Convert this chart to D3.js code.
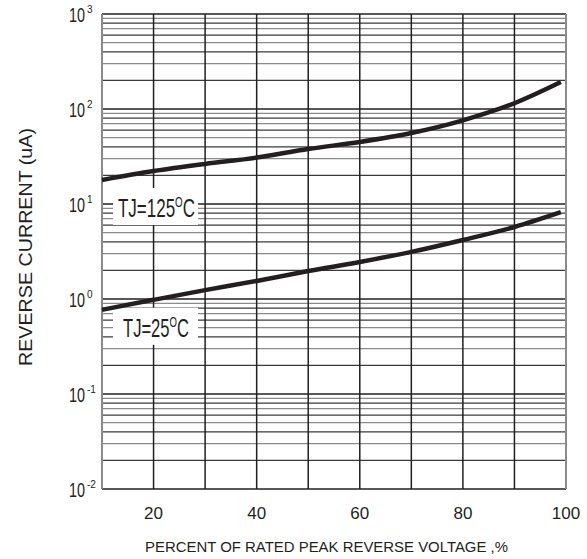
<!DOCTYPE html>
<html lang="en">
<head>
<meta charset="UTF-8">
<script src="https://d3js.org/d3.v7.min.js"></script>
<title>Reverse current</title>
<style>
  body { margin: 0; background: #fff; }
  text { font-family: "Liberation Sans", Arial, sans-serif; fill: #231f20; }
</style>
</head>
<body>
<svg id="chart" width="587" height="559"></svg>
<script>
// data
var voltage = [10, 20, 30, 40, 50, 60, 70, 80, 90, 99];
var current125 = [17.9, 22.2, 26.4, 30.8, 37.9, 45, 55.9, 76, 115, 192];
var current25 = [0.77, 0.98, 1.24, 1.55, 1.97, 2.45, 3.13, 4.18, 5.73, 8.2];
var xTicks = [20, 40, 60, 80, 100];
var xGrid = [20, 30, 40, 50, 60, 70, 80, 90];
var decades = [-2, -1, 0, 1, 2, 3];
var curveLabels = [
  { name: "125", x: 10, y: 7.3 },
  { name: "25", x: 10, y: 0.4 }
];

var svg = d3.select("#chart");
var pLeft = 102, pRight = 566, pTop = 14, pBottom = 489;

var x = d3.scaleLinear().domain([10, 100]).range([pLeft, pRight]);
var y = d3.scaleLog().domain([0.01, 1000]).range([pBottom, pTop]);

// minor grid lines
var minors = [];
decades.slice(0, -1).forEach(function(d) {
  for (var m = 2; m <= 9; m++) minors.push({ v: m * Math.pow(10, d), m: m });
});
svg.append("g").selectAll("line").data(minors).join("line")
  .attr("x1", pLeft).attr("x2", pRight)
  .attr("y1", function(d) { return y(d.v); })
  .attr("y2", function(d) { return y(d.v); })
  .attr("stroke", function(d) { return d.m % 2 ? "#8a8a8a" : "#3a3a3a"; })
  .attr("stroke-width", 1.3);

// major grid lines
svg.append("g").selectAll("line").data(decades).join("line")
  .attr("x1", pLeft).attr("x2", pRight)
  .attr("y1", function(d) { return y(Math.pow(10, d)); })
  .attr("y2", function(d) { return y(Math.pow(10, d)); })
  .attr("stroke", "#231f20")
  .attr("stroke-width", 1.6);

svg.append("g").selectAll("line").data(xGrid).join("line")
  .attr("x1", function(d) { return x(d); })
  .attr("x2", function(d) { return x(d); })
  .attr("y1", pTop).attr("y2", pBottom)
  .attr("stroke", "#231f20")
  .attr("stroke-width", 1.5);

// frame sides
svg.append("line").attr("x1", pLeft).attr("x2", pLeft).attr("y1", pTop).attr("y2", pBottom)
  .attr("stroke", "#8a8a8a").attr("stroke-width", 2);
svg.append("line").attr("x1", pRight).attr("x2", pRight).attr("y1", pTop).attr("y2", pBottom)
  .attr("stroke", "#8a8a8a").attr("stroke-width", 2);

// curve labels with white boxes
curveLabels.forEach(function(c) {
  var bx = x(c.x) + 11, by = y(c.y);
  svg.append("rect").attr("x", bx).attr("y", by - 29).attr("width", 85).attr("height", 37)
    .attr("fill", "#fff");
  var t = svg.append("text")
    .attr("x", bx + (c.name === "125" ? 5 : 10))
    .attr("y", by)
    .attr("font-size", 26)
    .attr("textLength", c.name === "125" ? 77 : 66)
    .attr("lengthAdjust", "spacingAndGlyphs");
  t.append("tspan").text("TJ=" + c.name);
  t.append("tspan").attr("font-size", 15).attr("dy", -10).text("O");
  t.append("tspan").attr("dy", 10).text("C");
});

// curves
var line = d3.line()
  .x(function(d) { return x(d[0]); })
  .y(function(d) { return y(d[1]); })
  .curve(d3.curveMonotoneX);

[current125, current25].forEach(function(series) {
  svg.append("path")
    .datum(voltage.map(function(v, i) { return [v, series[i]]; }))
    .attr("d", line)
    .attr("fill", "none")
    .attr("stroke", "#231f20")
    .attr("stroke-width", 4.5);
});

// x ticks
svg.append("g").selectAll("text").data(xTicks).join("text")
  .attr("x", function(d) { return x(d); })
  .attr("y", 519)
  .attr("text-anchor", "middle")
  .attr("font-size", 17)
  .text(function(d) { return d; });

// y ticks: 10 with superscript exponent
var yt = svg.append("g").selectAll("g").data(decades).join("g")
  .attr("transform", function(d) { return "translate(0," + (y(Math.pow(10, d)) + 8) + ")"; });
yt.append("text")
  .attr("x", 69).attr("y", 0)
  .attr("font-size", 21)
  .attr("textLength", 16)
  .attr("lengthAdjust", "spacingAndGlyphs")
  .text("10");
yt.append("text")
  .attr("x", 87).attr("y", -9)
  .attr("font-size", 10)
  .text(function(d) { return d; });

// axis titles
svg.append("text")
  .attr("x", 145).attr("y", 552)
  .attr("font-size", 15)
  .attr("textLength", 363)
  .attr("lengthAdjust", "spacingAndGlyphs")
  .text("PERCENT OF RATED PEAK REVERSE VOLTAGE ,%");

svg.append("text")
  .attr("transform", "translate(32,247) rotate(-90)")
  .attr("text-anchor", "middle")
  .attr("font-size", 19)
  .attr("textLength", 238)
  .attr("lengthAdjust", "spacingAndGlyphs")
  .text("REVERSE CURRENT (uA)");
</script>
</body>
</html>
